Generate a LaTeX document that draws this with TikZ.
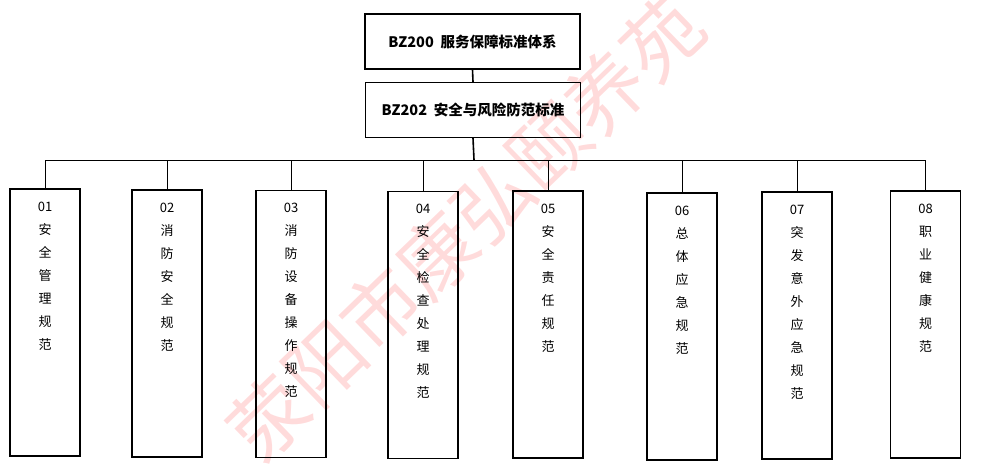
\documentclass[tikz,border=0pt]{standalone}
\usepackage{fontspec}
\newfontfamily\cjk{Noto Sans CJK SC}
\begin{document}
\begin{tikzpicture}[x=1pt,y=-1pt,
  hbox/.style={draw,line width=1.2pt,inner sep=0pt,minimum width=215pt,minimum height=55pt,font=\cjk\bfseries\fontsize{14.5}{16}\selectfont},
  colbox/.style={draw,line width=1.2pt,inner sep=0pt,minimum width=70pt,minimum height=267pt},
  coltext/.style={inner sep=0pt,anchor=north,align=center,font=\cjk\fontsize{13}{23}\selectfont},
  thin/.style={line width=0.8pt},
  trunk/.style={line width=1.6pt}]
\useasboundingbox (0,0) rectangle (981,467);
\node[rotate=44,text=red!40!white,text opacity=0.35,font=\cjk\fontsize{78}{86}\selectfont] (wm) at (465,228) {荥阳市康弘颐养苑};
\node[hbox] (top) at (472.5,41.5) {BZ200\ \ 服务保障标准体系};
\node[hbox] (mid) at (473,110) {BZ202\ \ 安全与风险防范标准};
\coordinate (bus) at (474,160);
\node[colbox] (b1) at (45,322.5) {};
\node[colbox] (b2) at (167,323.5) {};
\node[colbox] (b3) at (291,324) {};
\node[colbox] (b4) at (423,325) {};
\node[colbox] (b5) at (548,324.5) {};
\node[colbox] (b6) at (682,326.5) {};
\node[colbox] (b7) at (797,325.5) {};
\node[colbox] (b8) at (925.5,324.5) {};
\draw[trunk] (top.south) -- (mid.north);
\draw[trunk] (mid.south) -- (bus);
\draw[thin] (b1.north |- bus) -- (b8.north |- bus);
\foreach \i in {1,...,8} \draw[thin] (b\i.north) -- (b\i.north |- bus);
\node[coltext] (t1) at ([yshift=-13pt]b1.north) {01\\安\\全\\管\\理\\规\\范};
\node[coltext] (t2) at ([yshift=-13pt]b2.north) {02\\消\\防\\安\\全\\规\\范};
\node[coltext] (t3) at ([yshift=-13pt]b3.north) {03\\消\\防\\设\\备\\操\\作\\规\\范};
\node[coltext] (t4) at ([yshift=-13pt]b4.north) {04\\安\\全\\检\\查\\处\\理\\规\\范};
\node[coltext] (t5) at ([yshift=-13pt]b5.north) {05\\安\\全\\责\\任\\规\\范};
\node[coltext] (t6) at ([yshift=-13pt]b6.north) {06\\总\\体\\应\\急\\规\\范};
\node[coltext] (t7) at ([yshift=-13pt]b7.north) {07\\突\\发\\意\\外\\应\\急\\规\\范};
\node[coltext] (t8) at ([yshift=-13pt]b8.north) {08\\职\\业\\健\\康\\规\\范};
\end{tikzpicture}
\end{document}
